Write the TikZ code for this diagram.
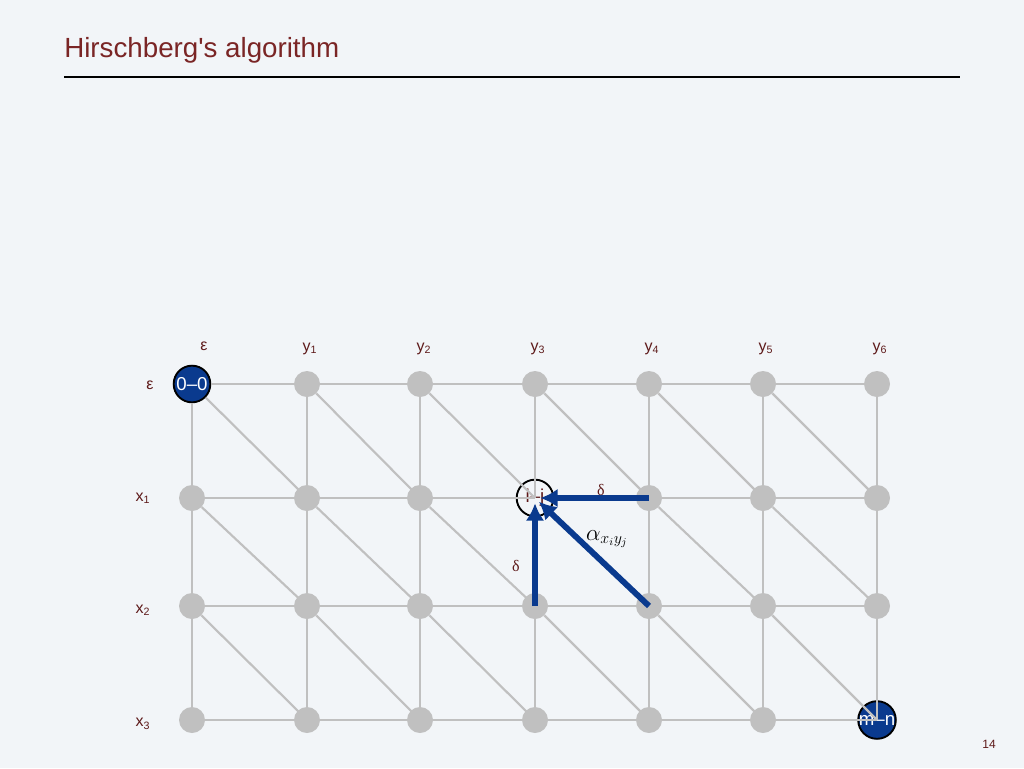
\documentclass[tikz,border=0pt]{standalone}
\usepackage{fontspec}
\setmainfont{Liberation Sans}
\newfontfamily\titlefont{Liberation Sans}[Ligatures=ResetAll]
\newfontfamily\serifgreek{Liberation Serif}
\usetikzlibrary{arrows.meta}
\definecolor{bg}{HTML}{F2F5F8}
\definecolor{titlered}{HTML}{7A2525}
\definecolor{lblred}{HTML}{5E1A1A}
\definecolor{dblue}{HTML}{0A3A8E}
\definecolor{gr}{HTML}{C0C0C0}
\tikzset{
  gnode/.style={circle,fill=gr,inner sep=0pt,minimum size=19.5pt},
  bnode/.style={circle,fill=dblue,draw=black,line width=1.4pt,inner sep=0pt,minimum size=27.5pt,text=white,font=\fontsize{14}{14}\selectfont},
  ijnode/.style={circle,draw=black,line width=1.4pt,inner sep=0pt,minimum size=27.5pt,text=lblred,font=\fontsize{14}{14}\selectfont},
  edge/.style={draw=gr,line width=1.6pt},
  barrow/.style={draw=dblue,line width=4.4pt,-{Latex[length=13pt,width=14pt]},shorten >=4pt},
  lbl/.style={text=lblred,font=\fontsize{12}{14}\selectfont,inner sep=0pt},
  dlbl/.style={text=lblred,font=\fontsize{12}{13}\serifgreek,inner sep=0pt}
}
\begin{document}
\begin{tikzpicture}[x=0.75pt,y=-0.75pt]
\fill[bg] (0,0) rectangle (1024,768);
\useasboundingbox (0,0) rectangle (1024,768);
\node[anchor=base west,text=titlered,font=\titlefont\fontsize{20.8}{24}\selectfont,inner sep=0pt] (title) at (64,57) {Hirschberg's algorithm};
\draw[line width=1.6pt] (64,77) -- (960,77);
% column / row labels
\node[lbl] (ce) at (204,346) {ε};
\foreach \c/\x in {1/310,2/424,3/538,4/652,5/766,6/880}
  \node[lbl] (cy\c) at (\x,349) {y\textsubscript{\c}};
\node[lbl] (re) at (150,385) {ε};
\foreach \r/\y in {1/498,2/610,3/724}
  \node[lbl] (rx\r) at (143,\y) {x\textsubscript{\r}};
% grid nodes
\foreach \r/\y in {0/384,1/498,2/606,3/720}{
  \foreach \c/\x in {0/192,1/307,2/420,3/535,4/649,5/763,6/877}{
    \pgfmathtruncatemacro{\k}{10*\r+\c}
    \ifnum\k=0 \node[bnode] (n\r\c) at (\x,\y) {0--0};
    \else\ifnum\k=13 \node[ijnode] (n\r\c) at (\x,\y) {i--j};
    \else\ifnum\k=36 \node[bnode] (n\r\c) at (\x,\y) {m--n};
    \else \node[gnode] (n\r\c) at (\x,\y) {};
    \fi\fi\fi
  }
}
% grid edges
\foreach \r in {0,...,3}{
  \foreach \c in {0,...,6}{
    \pgfmathtruncatemacro{\rn}{\r+1}
    \pgfmathtruncatemacro{\cn}{\c+1}
    \ifnum\c<6 \draw[edge] (n\r\c) -- (n\r\cn.center);\fi
    \ifnum\r<3
      \draw[edge] (n\r\c) -- (n\rn\c.center);
      \ifnum\c<6 \draw[edge] (n\r\c) -- (n\rn\cn.center);\fi
    \fi
  }
}
% blue arrows
\draw[barrow] (n14.center) -- (n13.center);
\draw[barrow] (n23.center) -- (n13.center);
\draw[barrow] (n24.center) -- (n13.center);
\node[dlbl] (d1) at (601,490) {δ};
\node[dlbl] (d2) at (516,566) {δ};
\node[inner sep=0pt,font=\fontsize{17}{18}\selectfont] (al) at (607,539) {$\alpha_{x_i y_j}$};
\node[text=lblred,font=\fontsize{9}{10}\selectfont,inner sep=0pt] (pg) at (989,744) {14};
\end{tikzpicture}
\end{document}
